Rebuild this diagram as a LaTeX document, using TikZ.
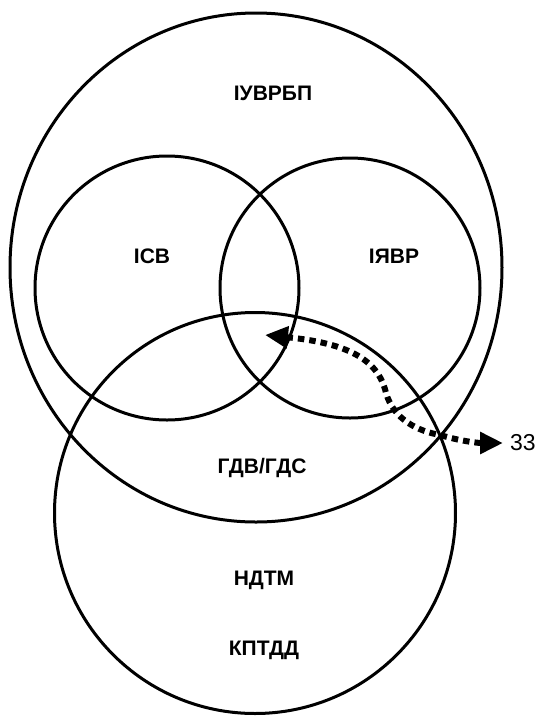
\documentclass[tikz,border=0pt]{standalone}
\usepackage{fontspec}
\setmainfont{Liberation Sans}
\usetikzlibrary{arrows.meta}
\tikzset{
  ring/.style={draw=black, line width=3pt},
  lbl/.style={font=\fontsize{21}{24}\selectfont\bfseries, inner sep=0pt},
  numlbl/.style={font=\fontsize{23}{26}\selectfont, inner sep=0pt, anchor=west},
  flow/.style={line width=6pt, dash pattern=on 6.5pt off 5pt,
    {Triangle[length=23pt,width=21pt]}-{Triangle[length=23pt,width=21pt]}}
}
\begin{document}
\begin{tikzpicture}[x=1pt,y=-1pt]
\useasboundingbox (0,0) rectangle (540,716);
% circles
\draw[ring] (256,267.5) ellipse [x radius=246, y radius=254.5];
\draw[ring] (167,288) circle [radius=132];
\draw[ring] (350,288) circle [radius=130];
\draw[ring] (255,513) circle [radius=200.5];
% labels
\node[lbl] (top) at (273,93) {ІУВРБП};
\node[lbl] (icb) at (152,256) {ІСВ};
\node[lbl] (iyavr) at (394,256) {ІЯВР};
\node[lbl] (gdv) at (262,468) {ГДВ/ГДС};
\node[lbl] (ndtm) at (264,580) {НДТМ};
\node[lbl] (kptdd) at (264,650) {КПТДД};
\node[numlbl] (zz) at (510,443) {33};
% arrow
\coordinate (aL) at (265,335);
\coordinate (aM) at (440,435);
\coordinate (aR) at (zz.west);
\draw[flow] (aL) .. controls (345,343) and (378,358) .. (386,393)
  .. controls (394,420) and (418,431) .. (aM)
  .. controls (460,441) and (478,443) .. ([xshift=-7pt]aR);
\end{tikzpicture}
\end{document}
